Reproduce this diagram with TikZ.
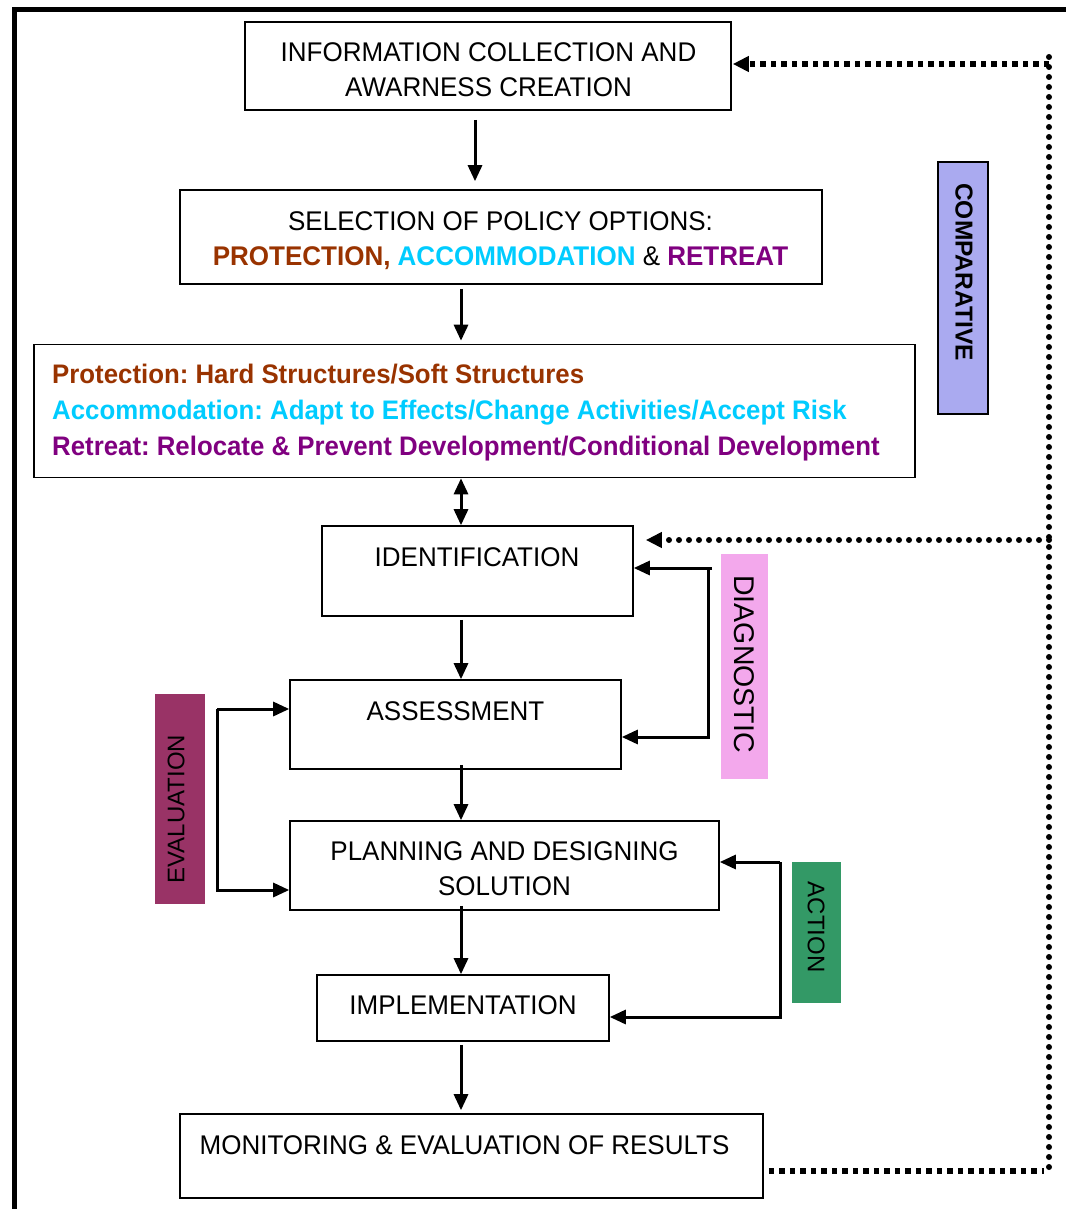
\documentclass[tikz,border=0pt]{standalone}
\usepackage{fontspec}
\setmainfont{Liberation Sans}
\newfontfamily\strfont{Liberation Sans}[FakeStretch=0.963]
\usetikzlibrary{arrows.meta,calc}
\definecolor{protc}{HTML}{993300}
\definecolor{accc}{HTML}{00CCFF}
\definecolor{retc}{HTML}{800080}
\definecolor{diagc}{HTML}{F3A8EC}
\definecolor{evalc}{HTML}{993366}
\definecolor{actc}{HTML}{339966}
\definecolor{compc}{HTML}{AAAAF0}
\frenchspacing
\begin{document}
\begin{tikzpicture}[x=1pt,y=-1pt,
  box/.style={draw, line width=1.6pt, inner sep=0pt},
  txt/.style={font=\strfont\fontsize{27}{31}\selectfont, anchor=base, inner sep=0pt},
  btxt/.style={font=\strfont\fontsize{26.8}{31}\selectfont\bfseries, anchor=base west, inner sep=0pt},
  tip/.style={-{Triangle[length=16pt,width=14pt]}},
  arr/.style={line width=3pt, tip},
  sqdot/.style={line width=6pt, dash pattern=on 5.5pt off 5pt},
  rdot/.style={line width=6pt, line cap=round, dash pattern=on 0pt off 10pt},
  lab/.style={inner sep=0pt, anchor=center}]
\useasboundingbox (0,0) rectangle (1066,1209);
% outer frame
\draw[line width=5pt] (14,1209) -- (14,9.5) -- (1066,9.5);

% boxes
\node[box, minimum width=486pt, minimum height=88pt] (info) at (488,66) {};
\node[box, minimum width=642pt, minimum height=94pt] (sel) at (501,237) {};
\node[box, minimum width=881pt, minimum height=133pt] (pol) at (474.5,411) {};
\node[box, minimum width=311pt, minimum height=90pt] (ident) at (477.5,571) {};
\node[box, minimum width=331pt, minimum height=89pt] (assess) at (455.5,724.5) {};
\node[box, minimum width=429pt, minimum height=89pt] (plan) at (504.5,865.5) {};
\node[box, minimum width=292pt, minimum height=66pt] (impl) at (463,1008) {};
\node[box, minimum width=583pt, minimum height=84pt] (mon) at (471.5,1156) {};

% texts
\node[txt] (infoA) at (488.5,62) {INFORMATION COLLECTION AND};
\node[txt] (infoB) at (488.5,97) {AWARNESS CREATION};
\node[txt] (selA) at (500.5,230) {SELECTION OF POLICY OPTIONS:};
\node[txt] (selB) at (500.5,265) {\bfseries\textcolor{protc}{PROTECTION,} \textcolor{accc}{ACCOMMODATION} \mdseries\& \bfseries\textcolor{retc}{RETREAT}};
\node[btxt, text=protc] (polA) at (52,383) {Protection: Hard Structures/Soft Structures};
\node[btxt, text=accc] (polB) at (52,419) {Accommodation: Adapt to Effects/Change Activities/Accept Risk};
\node[btxt, text=retc] (polC) at (52,455) {Retreat: Relocate \& Prevent Development/Conditional Development};
\node[txt] (identT) at (477,566) {IDENTIFICATION};
\node[txt] (assessT) at (455.5,720) {ASSESSMENT};
\node[txt] (planA) at (504.5,860) {PLANNING AND DESIGNING};
\node[txt] (planB) at (504.5,895) {SOLUTION};
\node[txt] (implT) at (463,1014) {IMPLEMENTATION};
\node[txt] (monT) at (464.5,1154) {MONITORING \& EVALUATION OF RESULTS};

% side labels
\node[draw, line width=1.2pt, fill=compc, minimum width=50pt, minimum height=252pt, inner sep=0pt] (comp) at (963,288) {};
\node[lab, rotate=-90, font=\fontsize{24.5}{29}\selectfont\bfseries] (compT) at (964,272) {COMPARATIVE};
\node[fill=diagc, minimum width=47pt, minimum height=225pt, inner sep=0pt] (diag) at (744.5,666.5) {};
\node[lab, rotate=-90, font=\fontsize{28.5}{33}\selectfont] (diagT) at (744,664) {DIAGNOSTIC};
\node[fill=evalc, minimum width=50pt, minimum height=210pt, inner sep=0pt] (eval) at (180,799) {};
\node[lab, rotate=90, font=\fontsize{24}{29}\selectfont] (evalT) at (176,809) {EVALUATION};
\node[fill=actc, minimum width=49pt, minimum height=141pt, inner sep=0pt] (act) at (816.5,932.5) {};
\node[lab, rotate=-90, font=\fontsize{24}{29}\selectfont] (actT) at (816,927) {ACTION};

% main vertical arrows
\coordinate (colA) at (475,0);
\coordinate (col) at (461,0);
\draw[arr] ($(info.south -| colA)+(0,9)$) -- ($(sel.north -| colA)+(0,-8)$);
\draw[arr] ($(sel.south -| col)+(0,4)$) -- ($(pol.north -| col)+(0,-3)$);
\draw[line width=3pt, {Triangle[length=16pt,width=14pt]}-{Triangle[length=16pt,width=14pt]}] (pol.south -| col) -- (ident.north -| col);
\draw[arr] ($(ident.south -| col)+(0,3)$) -- (assess.north -| col);
\draw[arr] ($(assess.south -| col)+(0,-5)$) -- (plan.north -| col);
\draw[arr] ($(plan.south -| col)+(0,-5)$) -- (impl.north -| col);
\draw[arr] ($(impl.south -| col)+(0,3)$) -- ($(mon.north -| col)+(0,-3)$);

% diagnostic bracket
\coordinate (dg1) at (708,568);
\coordinate (dg2) at (708,737);
\draw[arr] ($(dg1)+(4,0)$) -- (ident.east |- dg1);
\draw[arr] (dg1) -- (dg2) -- (assess.east |- dg2);

% evaluation bracket
\coordinate (ev1) at (217,709);
\coordinate (ev2) at (217,890);
\draw[arr] (ev1) -- (assess.west |- ev1);
\draw[arr] (ev1) -- (ev2) -- (plan.west |- ev2);

% action bracket
\coordinate (ac1) at (780,862);
\coordinate (ac2) at (780,1017);
\draw[arr] (ac1) -- (plan.east |- ac1);
\draw[arr] (ac1) -- (ac2) -- (impl.east |- ac2);

% comparative dotted feedback
\coordinate (dtop) at (1049,64);
\coordinate (dmid) at (1049,540);
\coordinate (dbot) at (1049,1171);
\coordinate (dstart) at (1049,57);
\draw[rdot] (dstart) -- (dbot);
\draw[sqdot, -{Triangle[length=16pt,width=15pt]}] (dtop) -- ($(info.east |- dtop)+(1,0)$);
\draw[rdot, -{Triangle[length=16pt,width=15pt]}] (dmid) -- ($(ident.east |- dmid)+(12,0)$);
\draw[sqdot] ($(mon.east |- dbot)+(5,0)$) -- ($(dbot)+(-5,0)$);
\end{tikzpicture}
\end{document}
